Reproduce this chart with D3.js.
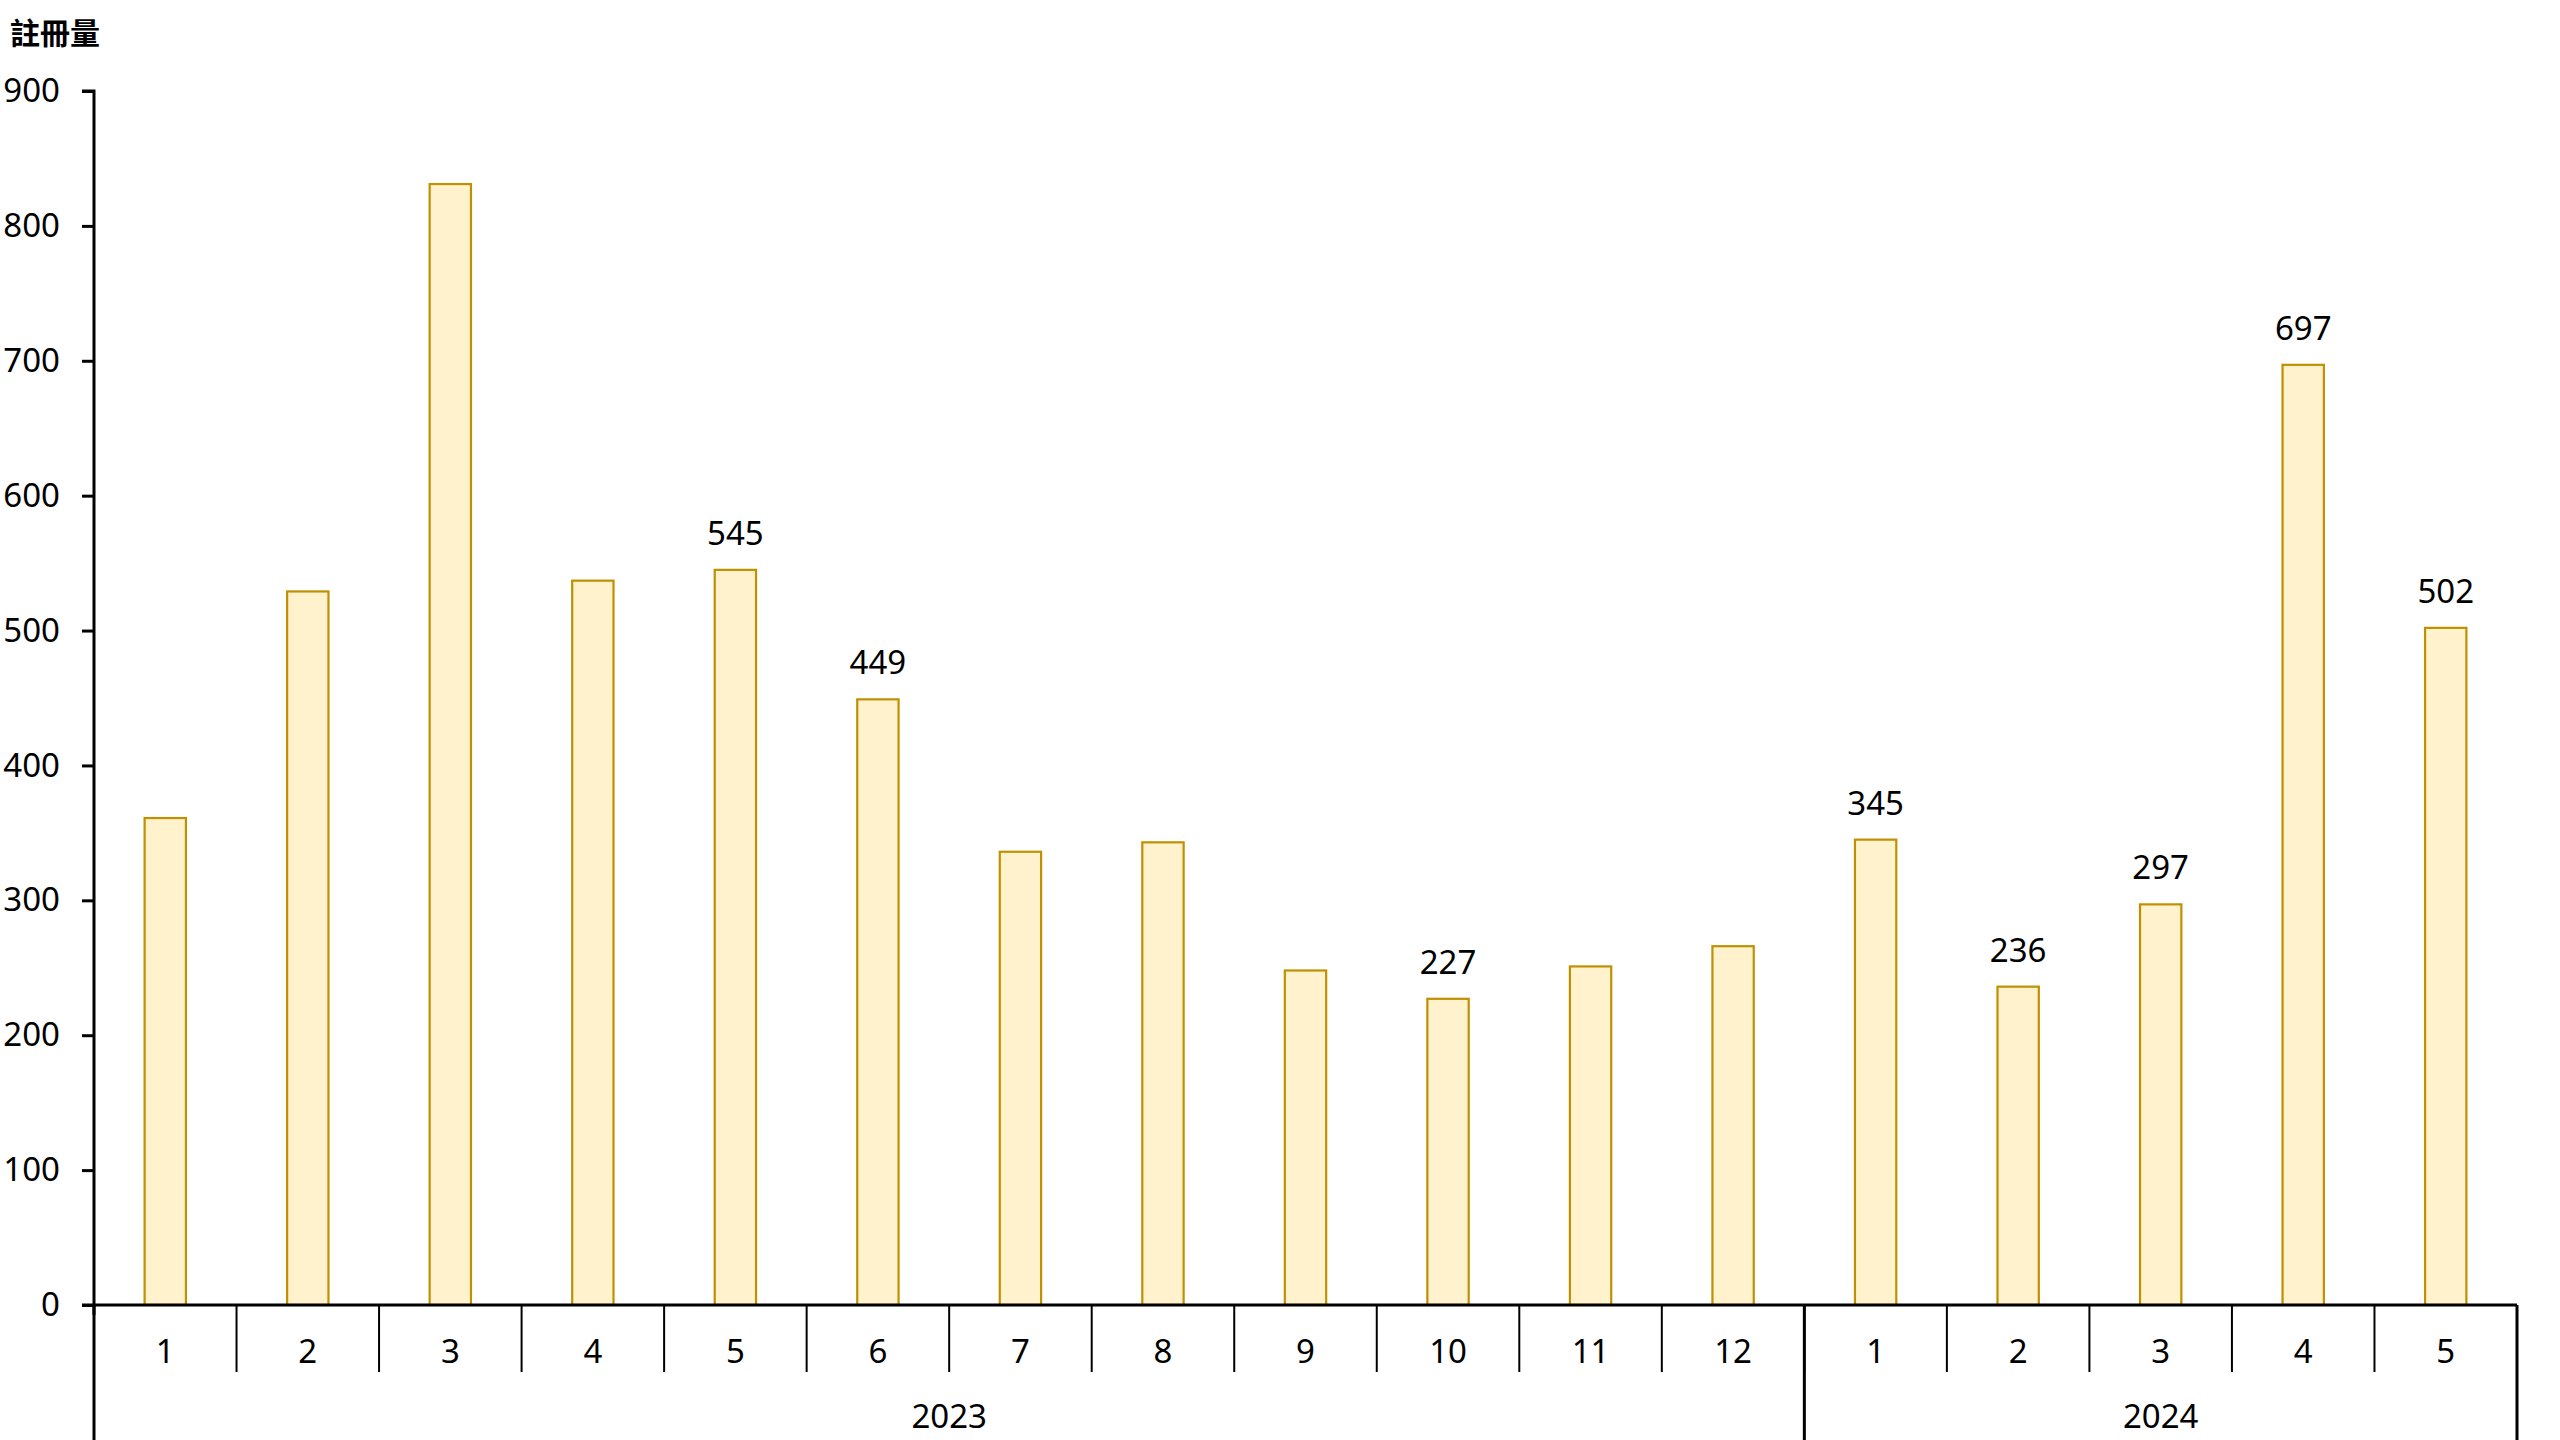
<!DOCTYPE html>
<html>
<head>
<meta charset="utf-8">
<script src="https://cdn.jsdelivr.net/npm/d3@7"></script>
<style>
  body { margin: 0; background: #fff; }
  text { font-family: "Noto Sans", "Open Sans", sans-serif; fill: #000; }
  .title { font-family: "Noto Sans CJK TC", "Noto Sans", sans-serif; }
</style>
</head>
<body>
<script>
const width = 2560;
const height = 1440;

// data
const years = ['2023', '2024'];
const months = ['1','2','3','4','5','6','7','8','9','10','11','12','1','2','3','4','5'];
const monthYear = ['2023','2023','2023','2023','2023','2023','2023','2023','2023','2023','2023','2023','2024','2024','2024','2024','2024'];
const counts = [361, 529, 831, 537, 545, 449, 336, 343, 248, 227, 251, 266, 345, 236, 297, 697, 502];
const labelled = [false, false, false, false, true, true, false, false, false, true, false, false, true, true, true, true, true];
const yTicks = [0, 100, 200, 300, 400, 500, 600, 700, 800, 900];

const plotLeft = 94, plotRight = 2517, plotTop = 91, plotBottom = 1305;

const svg = d3.select('body')
              .append('svg')
              .attr('width', width)
              .attr('height', height);

const x = d3.scaleBand()
            .domain(d3.range(counts.length))
            .range([plotLeft, plotRight])
            .padding(0);

const y = d3.scaleLinear()
            .domain([0, 900])
            .range([plotBottom, plotTop]);

const barW = x.bandwidth() * 0.29;

// bars
svg.selectAll('rect.bar')
  .data(counts)
  .enter()
  .append('rect')
    .attr('class', 'bar')
    .attr('x', (d, i) => x(i) + (x.bandwidth() - barW) / 2)
    .attr('y', d => y(d))
    .attr('width', barW)
    .attr('height', d => y(0) - y(d))
    .attr('fill', '#FFF2CC')
    .attr('stroke', '#BF9000')
    .attr('stroke-width', 2.2);

// value labels (only some bars have them)
svg.selectAll('text.val')
  .data(counts.map((d, i) => ({v: d, i: i})).filter(d => labelled[d.i]))
  .enter()
  .append('text')
    .attr('class', 'val')
    .attr('x', d => x(d.i) + x.bandwidth() / 2)
    .attr('y', d => y(d.v) - 25)
    .attr('text-anchor', 'middle')
    .attr('font-size', 33)
    .text(d => d.v);

// y axis
const yAxis = svg.append('g')
  .attr('transform', `translate(${plotLeft},0)`)
  .call(d3.axisLeft(y).tickValues(yTicks).tickSize(12).tickPadding(22));
yAxis.select('.domain').attr('stroke', '#000').attr('stroke-width', 3)
  .attr('d', `M-12,${plotTop}H0V${plotBottom + 10}`);
yAxis.selectAll('.tick line').attr('stroke', '#000').attr('stroke-width', 3);
yAxis.selectAll('.tick text')
  .attr('font-size', 33)
  .attr('font-family', '"Noto Sans", sans-serif')
  .attr('fill', '#000');

// x axis: month row
const xAxis = svg.append('g');
xAxis.append('line')
  .attr('x1', plotLeft - 12).attr('x2', plotRight)
  .attr('y1', plotBottom).attr('y2', plotBottom)
  .attr('stroke', '#000').attr('stroke-width', 3);

xAxis.selectAll('line.sep')
  .data(d3.range(1, counts.length))
  .enter()
  .append('line')
    .attr('class', 'sep')
    .attr('x1', i => x(i)).attr('x2', i => x(i))
    .attr('y1', plotBottom).attr('y2', 1372)
    .attr('stroke', '#000').attr('stroke-width', 2);

xAxis.selectAll('text.month')
  .data(months)
  .enter()
  .append('text')
    .attr('class', 'month')
    .attr('x', (d, i) => x(i) + x.bandwidth() / 2)
    .attr('y', 1351)
    .attr('dy', '0.35em')
    .attr('text-anchor', 'middle')
    .attr('font-size', 33)
    .text(d => d);

// year row
const yearSpans = years.map(yr => {
  const idx = monthYear.map((m, i) => m === yr ? i : -1).filter(i => i >= 0);
  return {year: yr, x0: x(idx[0]), x1: x(idx[idx.length - 1]) + x.bandwidth()};
});

xAxis.selectAll('line.yearsep')
  .data([plotLeft].concat(yearSpans.map(s => s.x1)))
  .enter()
  .append('line')
    .attr('class', 'yearsep')
    .attr('x1', d => d).attr('x2', d => d)
    .attr('y1', plotBottom).attr('y2', height)
    .attr('stroke', '#000').attr('stroke-width', 3);

xAxis.selectAll('text.year')
  .data(yearSpans)
  .enter()
  .append('text')
    .attr('class', 'year')
    .attr('x', d => (d.x0 + d.x1) / 2)
    .attr('y', 1416)
    .attr('dy', '0.35em')
    .attr('text-anchor', 'middle')
    .attr('font-size', 33)
    .text(d => d.year);

// axis title
svg.append('text')
  .attr('class', 'title')
  .attr('x', 10)
  .attr('y', 33)
  .attr('dy', '0.35em')
  .attr('font-size', 30)
  .attr('font-weight', 'bold')
  .text('註冊量');
</script>
</body>
</html>
